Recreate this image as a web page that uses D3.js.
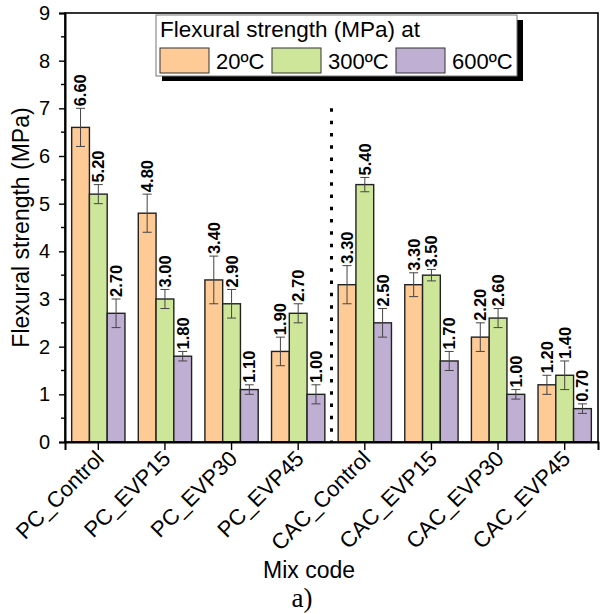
<!DOCTYPE html>
<html>
<head>
<meta charset="utf-8">
<script src="https://cdn.jsdelivr.net/npm/d3@7"></script>
<style>
  html, body { margin: 0; padding: 0; background: #fff; }
  svg { display: block; font-family: "Liberation Sans", Arial, sans-serif; }
</style>
</head>
<body>
<svg id="chart" width="600" height="614"></svg>
<script>
// Mix codes along the x axis
const categories = ["PC_Control", "PC_EVP15", "PC_EVP30", "PC_EVP45",
                    "CAC_Control", "CAC_EVP15", "CAC_EVP30", "CAC_EVP45"];
// Temperature series
const seriesNames = ["20ºC", "300ºC", "600ºC"];
// Mean flexural strength (MPa)
const values20  = [6.60, 4.80, 3.40, 1.90, 3.30, 3.30, 2.20, 1.20];
const values300 = [5.20, 3.00, 2.90, 2.70, 5.40, 3.50, 2.60, 1.40];
const values600 = [2.70, 1.80, 1.10, 1.00, 2.50, 1.70, 1.00, 0.70];
// Standard deviations (MPa)
const err20  = [0.40, 0.40, 0.50, 0.30, 0.40, 0.25, 0.30, 0.20];
const err300 = [0.20, 0.20, 0.30, 0.20, 0.15, 0.12, 0.20, 0.30];
const err600 = [0.30, 0.10, 0.10, 0.20, 0.30, 0.20, 0.10, 0.10];
const yTicks = [0, 1, 2, 3, 4, 5, 6, 7, 8, 9];
const colors = ["#FECA96", "#CDE69A", "#BFAFD3"];

const svg = d3.select("#chart");
const m = { left: 65, right: 598, top: 13, bottom: 442 };

const x = d3.scaleBand().domain(categories).range([m.left, m.right]).padding(0);
const xs = d3.scaleBand().domain(seriesNames)
  .range([x.bandwidth() * 0.1, x.bandwidth() * 0.9]).padding(0);
const y = d3.scaleLinear().domain([0, 9]).range([m.bottom, m.top]);

const allValues = [values20, values300, values600];
const allErr = [err20, err300, err600];
const rows = [];
categories.forEach((c, i) => {
  seriesNames.forEach((s, k) => {
    rows.push({ cat: c, ser: s, k, v: allValues[k][i], e: allErr[k][i] });
  });
});

// Bars
svg.append("g").selectAll("rect").data(rows).join("rect")
  .attr("x", d => x(d.cat) + xs(d.ser))
  .attr("y", d => y(d.v))
  .attr("width", xs.bandwidth())
  .attr("height", d => y(0) - y(d.v))
  .attr("fill", d => colors[d.k])
  .attr("stroke", "#222")
  .attr("stroke-width", 1.4);

// Error bars
const eg = svg.append("g").attr("stroke", "#444").attr("stroke-width", 1);
rows.forEach(d => {
  const cx = x(d.cat) + xs(d.ser) + xs.bandwidth() / 2;
  const y1 = y(d.v + d.e), y2 = y(d.v - d.e);
  eg.append("line").attr("x1", cx).attr("x2", cx).attr("y1", y1).attr("y2", y2);
  eg.append("line").attr("x1", cx - 4.5).attr("x2", cx + 4.5).attr("y1", y1).attr("y2", y1);
  eg.append("line").attr("x1", cx - 4.5).attr("x2", cx + 4.5).attr("y1", y2).attr("y2", y2);
});

// Value labels, rotated above each error bar
svg.append("g").selectAll("text").data(rows).join("text")
  .attr("transform", d => {
    const cx = x(d.cat) + xs(d.ser) + xs.bandwidth() / 2;
    return `translate(${cx},${y(d.v + d.e) - 2}) rotate(-90)`;
  })
  .attr("dy", "0.36em")
  .attr("text-anchor", "start")
  .attr("font-size", 16.5)
  .attr("font-weight", "bold")
  .attr("fill", "#000")
  .text(d => d.v.toFixed(2));

// Dotted divider between PC and CAC groups
const divX = x("CAC_Control");
svg.append("line")
  .attr("x1", divX).attr("x2", divX)
  .attr("y1", y(7.0)).attr("y2", y(0))
  .attr("stroke", "#000").attr("stroke-width", 3)
  .attr("stroke-dasharray", "3.5 8.8");

// Frame
svg.append("rect")
  .attr("x", m.left).attr("y", m.top)
  .attr("width", m.right - m.left).attr("height", m.bottom - m.top)
  .attr("fill", "none").attr("stroke", "#000").attr("stroke-width", 1.6);

// Y axis
const yAxis = d3.axisLeft(y).tickValues(yTicks).tickSize(6).tickPadding(9).tickFormat(d3.format("d"));
const gy = svg.append("g").attr("transform", `translate(${m.left},0)`).call(yAxis);
gy.select(".domain").attr("stroke-width", 2);
gy.selectAll(".tick line").attr("stroke-width", 1.4);
gy.selectAll(".tick text").attr("font-size", 20).attr("font-family", "Liberation Sans, Arial, sans-serif");
// Minor ticks
const minor = d3.range(0.5, 9, 1);
svg.append("g").selectAll("line").data(minor).join("line")
  .attr("x1", m.left - 4).attr("x2", m.left)
  .attr("y1", d => y(d)).attr("y2", d => y(d))
  .attr("stroke", "#000").attr("stroke-width", 1.4);

// X axis
const xAxis = d3.axisBottom(x).tickSize(8).tickFormat("");
const gx = svg.append("g").attr("transform", `translate(0,${m.bottom})`).call(xAxis);
gx.select(".domain").attr("stroke-width", 2);
gx.selectAll(".tick line").attr("stroke-width", 1.4);
svg.append("g").selectAll("text").data(categories).join("text")
  .attr("transform", d => `translate(${x(d) + x.bandwidth() / 2 + 7},${m.bottom + 18}) rotate(-45)`)
  .attr("text-anchor", "end")
  .attr("font-size", 22)
  .text(d => d);

// Axis titles
svg.append("text")
  .attr("transform", `translate(29,${(m.top + m.bottom) / 2}) rotate(-90)`)
  .attr("text-anchor", "middle")
  .attr("font-size", 23)
  .text("Flexural strength (MPa)");
svg.append("text")
  .attr("x", 309).attr("y", 578)
  .attr("text-anchor", "middle")
  .attr("font-size", 23)
  .text("Mix code");
svg.append("text")
  .attr("x", 302).attr("y", 607)
  .attr("text-anchor", "middle")
  .attr("font-size", 27)
  .attr("font-family", "Liberation Serif, Times New Roman, serif")
  .text("a)");

// Legend
const lg = svg.append("g");
lg.append("rect").attr("x", 162).attr("y", 20).attr("width", 361).attr("height", 61).attr("fill", "#000");
lg.append("rect").attr("x", 156).attr("y", 15).attr("width", 361).attr("height", 61)
  .attr("fill", "#fff").attr("stroke", "#777").attr("stroke-width", 1);
lg.append("text").attr("x", 160).attr("y", 37).attr("font-size", 22.5).text("Flexural strength (MPa) at");
const legX = [160, 272, 396];
seriesNames.forEach((s, k) => {
  lg.append("rect").attr("x", legX[k]).attr("y", 48).attr("width", 49).attr("height", 25)
    .attr("fill", colors[k]).attr("stroke", "#333").attr("stroke-width", 1);
  lg.append("text").attr("x", legX[k] + 56).attr("y", 68.5).attr("font-size", 22).text(s);
});
</script>
</body>
</html>
